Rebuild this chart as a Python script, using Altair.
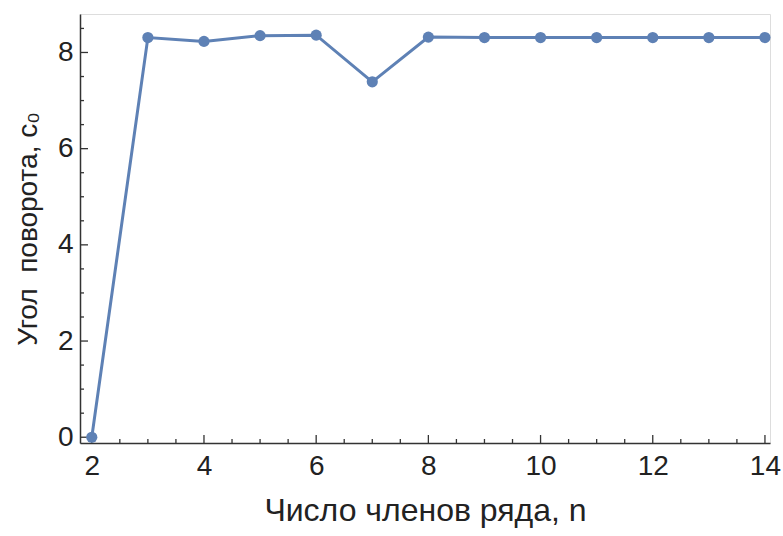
import altair as alt
import pandas as pd

# Rotation angle c0 versus number of series terms n
n_terms = [2, 3, 4, 5, 6, 7, 8, 9, 10, 11, 12, 13, 14]
angle_c0 = [0.0, 8.31, 8.23, 8.35, 8.36, 7.39, 8.32, 8.31, 8.31, 8.31, 8.31, 8.31, 8.31]

# Tick positions (drawn inward, Mathematica-style)
x_major = [2, 4, 6, 8, 10, 12, 14]
x_minor = [2.5, 3, 3.5, 4.5, 5, 5.5, 6.5, 7, 7.5, 8.5, 9, 9.5, 10.5, 11, 11.5, 12.5, 13, 13.5]
y_major = [0, 2, 4, 6, 8]
y_minor = [0.5, 1, 1.5, 2.5, 3, 3.5, 4.5, 5, 5.5, 6.5, 7, 7.5, 8.5]

W, H = 690, 429
BLUE = "#5E81B5"
AXIS = "#333333"
TEXT = "#222222"
FONT = "Liberation Sans"

df = pd.DataFrame({"n": n_terms, "c0": angle_c0})

xs = alt.Scale(domain=[1.79, 14.09], nice=False, zero=False)
ys = alt.Scale(domain=[-0.12, 8.8], nice=False, zero=False)

x_axis = alt.Axis(
    values=x_major, format="d", ticks=False, grid=False, domainColor=AXIS, domainWidth=1.5,
    labelFont=FONT, labelFontSize=28, labelColor=TEXT, labelPadding=9,
    title="Число членов ряда, n", titleFont=FONT, titleFontSize=32,
    titleFontWeight="normal", titleColor=TEXT, titlePadding=15,
)
y_axis = alt.Axis(
    values=y_major, format="d", ticks=False, grid=False, domainColor=AXIS, domainWidth=1.5,
    labelFont=FONT, labelFontSize=28, labelColor=TEXT, labelPadding=7,
    title="Угол\u00a0 поворота, c₀", titleFont=FONT, titleFontSize=28,
    titleFontWeight="normal", titleColor=TEXT, titlePadding=15,
)

base = alt.Chart(df)
line = base.mark_line(color=BLUE, strokeWidth=3).encode(
    x=alt.X("n:Q", scale=xs, axis=x_axis),
    y=alt.Y("c0:Q", scale=ys, axis=y_axis),
)
points = base.mark_point(filled=True, color=BLUE, size=125, opacity=1).encode(
    x=alt.X("n:Q", scale=xs),
    y=alt.Y("c0:Q", scale=ys),
)


def xticks(vals, length):
    return alt.Chart(pd.DataFrame({"t": vals})).mark_rule(color=AXIS, strokeWidth=1.3).encode(
        x=alt.X("t:Q", scale=xs), y=alt.value(H), y2=alt.value(H - length)
    )


def yticks(vals, length):
    return alt.Chart(pd.DataFrame({"t": vals})).mark_rule(color=AXIS, strokeWidth=1.3).encode(
        y=alt.Y("t:Q", scale=ys), x=alt.value(0), x2=alt.value(length)
    )


chart = alt.layer(
    xticks(x_major, 8), xticks(x_minor, 4), yticks(y_major, 8), yticks(y_minor, 4),
    line, points,
).properties(
    width=W, height=H,
    autosize=alt.AutoSizeParams(type="none"),
    padding={"left": 80, "top": 14, "right": 13, "bottom": 93},
).configure_view(stroke=None).configure(background="white")

chart.save("out.html", embed_options={"renderer": "svg", "actions": False})
